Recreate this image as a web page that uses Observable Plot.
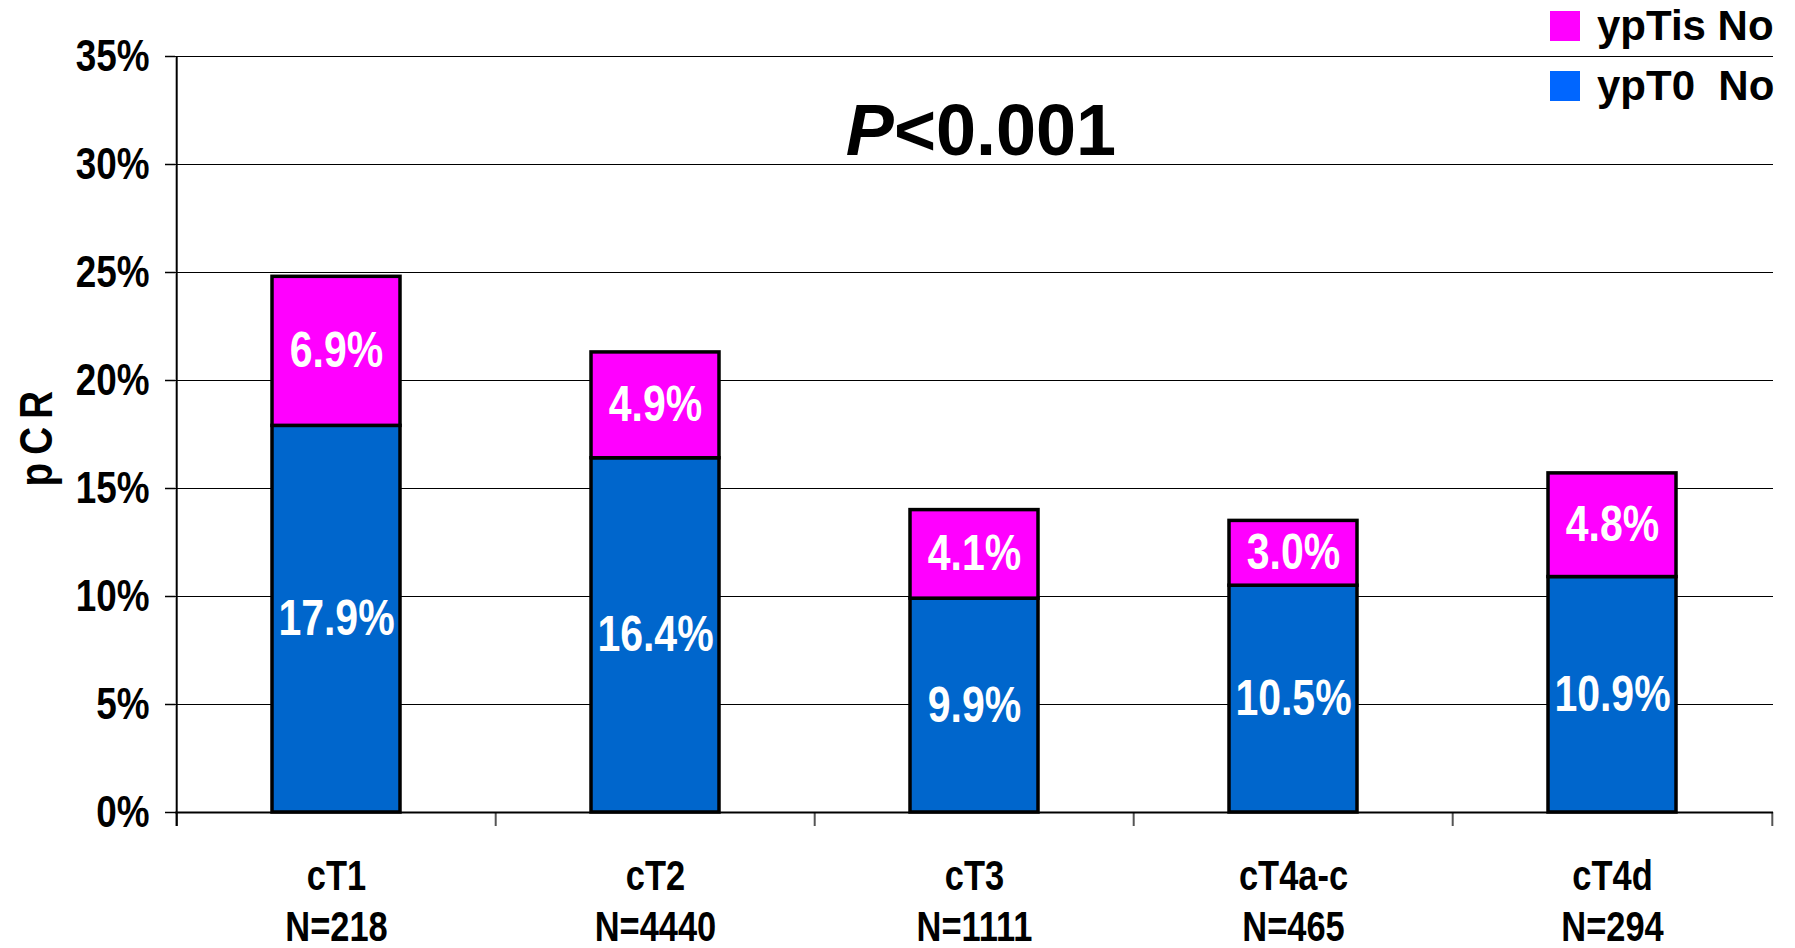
<!DOCTYPE html>
<html>
<head>
<meta charset="utf-8">
<script src="https://cdn.jsdelivr.net/npm/d3@7"></script>
<script src="https://cdn.jsdelivr.net/npm/@observablehq/plot@0.6"></script>
<style>
  body { margin: 0; background: #fff; }
  #chart { position: relative; width: 1795px; height: 948px; font-family: "Liberation Sans", Arial, sans-serif; }
  .ylab text { letter-spacing: 10px; }
  .leyenda { position: absolute; left: 1550px; font-weight: bold; font-size: 42px; white-space: pre; line-height: 30px; }
  .leyenda span { display: inline-block; width: 30px; height: 30px; margin-right: 17px; vertical-align: top; }
  .pvalor { position: absolute; left: 981px; top: 94px; transform: translateX(-50%); font-weight: bold; font-size: 72px; line-height: 72px; white-space: nowrap; }
</style>
</head>
<body>
<div id="chart"></div>
<script>
const categorias = ['cT1', 'cT2', 'cT3', 'cT4a-c', 'cT4d']
const casos = [218, 4440, 1111, 465, 294]
const ypT0 = [17.9, 16.4, 9.9, 10.5, 10.9]
const ypTis = [6.9, 4.9, 4.1, 3.0, 4.8]
const series = ['ypT0  No', 'ypTis No']
const colores = ['#0066CC', '#FF00FF']
const coloresLeyenda = ['#0066FF', '#FF00FF']
const yTicks = [0, 5, 10, 15, 20, 25, 30, 35]

const W = 1795, H = 948
const mL = 175, mR = 22, mT = 56, mB = 136
const paso = (W - mL - mR) / categorias.length
const fuente = '"Liberation Sans", Arial, sans-serif'

// tabla larga: primero ypT0 (abajo), después ypTis (arriba)
const datos = []
categorias.forEach((c, i) => {
  datos.push({cat: c, serie: series[0], valor: ypT0[i]})
  datos.push({cat: c, serie: series[1], valor: ypTis[i]})
})

const chart = Plot.plot({
  width: W,
  height: H,
  marginLeft: mL,
  marginRight: mR,
  marginTop: mT,
  marginBottom: mB,
  style: {background: 'white', color: 'black', overflow: 'visible'},
  x: {domain: categorias, paddingInner: 0.6, paddingOuter: 0.3},
  y: {domain: [0, 35]},
  color: {domain: series, range: colores},
  marks: [
    Plot.gridY(yTicks, {stroke: 'black', strokeOpacity: 1, strokeWidth: 1.2}),
    Plot.axisY(yTicks, {
      tickSize: 10, tickPadding: 16, tickFormat: d => d + '%',
      fontSize: 45, fontWeight: 'bold', fontFamily: fuente, strokeWidth: 1.5, label: null
    }),
    Plot.axisX({
      tickSize: 0, tickPadding: 42,
      tickFormat: d => `${d}\nN=${casos[categorias.indexOf(d)]}`,
      fontSize: 42, fontWeight: 'bold', fontFamily: fuente, lineHeight: 1.2, label: null
    }),
    // marcas entre categorías
    Plot.ruleX(categorias, {y1: 0, y2: 0, insetBottom: -14, dx: -paso / 2, stroke: '#555', strokeWidth: 2}),
    Plot.ruleX(categorias.slice(-1), {y1: 0, y2: 0, insetBottom: -14, dx: paso / 2, stroke: '#555', strokeWidth: 2}),
    // eje Y
    Plot.ruleX(categorias.slice(0, 1), {y1: 35, y2: 0, insetBottom: -14, dx: -paso / 2, stroke: 'black', strokeWidth: 2}),
    Plot.ruleY([0], {stroke: 'black', strokeWidth: 2}),
    Plot.barY(datos, {x: 'cat', y: 'valor', fill: 'serie', stroke: 'black', strokeWidth: 3.5}),
    Plot.text(datos, Plot.stackY({
      x: 'cat', y: 'valor', text: d => d.valor.toFixed(1) + '%',
      fill: 'white', fontSize: 50, fontWeight: 'bold', fontFamily: fuente
    })),
    Plot.text(['pCR'], {
      frameAnchor: 'left', textAnchor: 'middle', rotate: -90, dx: -139, text: d => d,
      fontSize: 47, fontWeight: 'bold', fontFamily: fuente, className: 'ylab'
    })
  ]
})

// sin Arial Narrow: se estrecha el texto del SVG a lo ancho
function estrechar(sel, k) {
  sel.each(function () {
    const t = d3.select(this)
    const tr = t.attr('transform') || ''
    t.attr('transform', `${tr} scale(${k},1)`)
  })
}
estrechar(d3.select(chart).selectAll('text'), 0.82)

const cont = d3.select('#chart')
cont.append(() => chart)

// leyenda: ypTis arriba, ypT0 abajo
const filas = [[series[1], coloresLeyenda[1], 11], [series[0], coloresLeyenda[0], 71]]
filas.forEach(([nombre, color, top]) => {
  const fila = cont.append('div').attr('class', 'leyenda').style('top', top + 'px')
  fila.append('span').style('background', color)
  fila.append('text').text(nombre)
})

cont.append('div').attr('class', 'pvalor').html('<i>P</i>&lt;0.001')
</script>
</body>
</html>
